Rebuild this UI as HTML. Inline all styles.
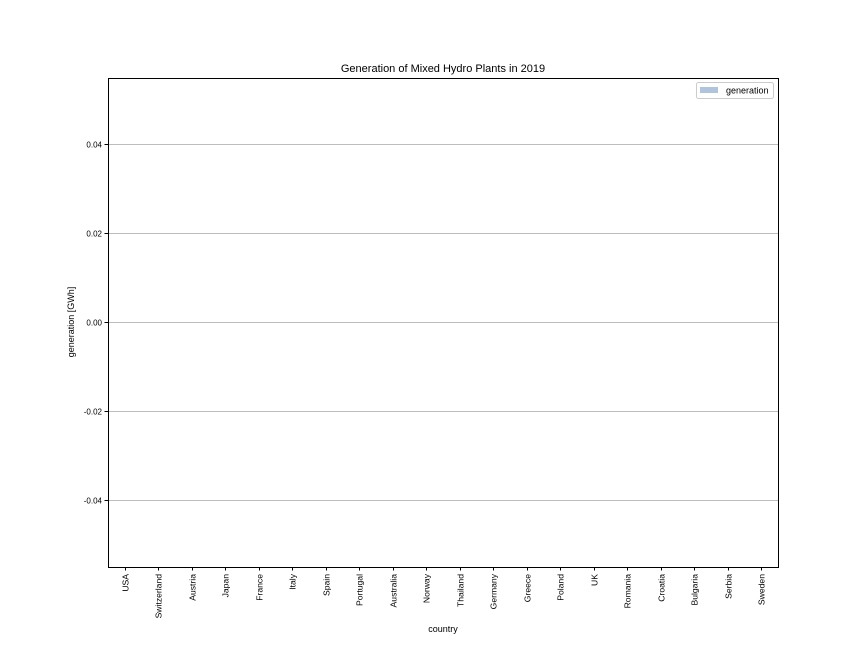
<!DOCTYPE html>
<html><head><meta charset="utf-8"><style>
body{margin:0;background:#fff}
svg{display:block;font-family:"Liberation Sans","Noto Sans CJK SC",sans-serif}
</style></head><body>
<svg id="chart" width="864" height="648" viewBox="0 0 864 648">
<rect width="864" height="648" fill="#fff"/>
<text x="443" y="72" text-anchor="middle" font-size="11" fill="#000">Generation of Mixed Hydro Plants in 2019</text>
<g id="grid"></g>
<g id="bars"></g>
<g id="yticks"></g>
<g id="xticks"></g>
<rect x="108.5" y="78.5" width="670" height="489" fill="none" stroke="#000" stroke-width="1"/>
<text x="74" y="322" transform="rotate(-90 74 322)" text-anchor="middle" font-size="9">generation [GWh]</text>
<text x="443" y="632" text-anchor="middle" font-size="9">country</text>
<g>
<rect x="696.5" y="82.5" width="77" height="16" rx="2" fill="#fff" stroke="#ccc"/>
<rect x="700" y="87" width="18" height="6" fill="#b0c4de"/>
<text x="726" y="93.5" font-size="9">generation</text>
</g>
</svg>
<script>
const categories=["USA","Switzerland","Austria","Japan","France","Italy","Spain","Portugal","Australia","Norway","Thailand","Germany","Greece","Poland","UK","Romania","Croatia","Bulgaria","Serbia","Sweden"];
const generation=[0,0,0,0,0,0,0,0,0,0,0,0,0,0,0,0,0,0,0,0];
const yTicks=[-0.04,-0.02,0.00,0.02,0.04];
const yTickLabels=["-0.04","-0.02","0.00","0.02","0.04"];
const NS="http://www.w3.org/2000/svg";
const L=108,R=778,T=78,B=567,ymin=-0.055,ymax=0.055;
function ys(v){return B-(v-ymin)/(ymax-ymin)*(B-T);}
const bw=(R-L)/categories.length;
function xs(i){return L+bw*(i+0.5);}
function mk(tag,attrs,parent){const e=document.createElementNS(NS,tag);for(const k in attrs)e.setAttribute(k,attrs[k]);document.getElementById(parent).appendChild(e);return e;}
yTicks.forEach((v,i)=>{
  const y=Math.floor(ys(v))+0.5;
  const g=mk('line',{x1:L,x2:R,y1:y,y2:y,stroke:'#bdbdbd','stroke-width':1},'grid');
  
  
  const t=mk('line',{x1:L-3.5,x2:L,y1:y,y2:y,stroke:'#000'},'yticks');
  
  
  const tx=mk('text',{x:L-6,y:y+3,'text-anchor':'end','font-size':8},'yticks');
  tx.textContent=yTickLabels[i];
  
  
});
categories.forEach((c,i)=>{
  const x=Math.round(xs(i))+0.5;
  const v=generation[i];
  const y0=ys(0),y1=ys(v);
  const b=mk('rect',{x:xs(i)-bw*0.25,y:Math.min(y0,y1),width:bw*0.5,height:Math.abs(y1-y0),fill:'#b0c4de'},'bars');
  
  
  const t=mk('line',{x1:x,x2:x,y1:B,y2:B+3.5,stroke:'#000'},'xticks');
  
  
  const tx=mk('text',{x:x+3,y:B+7,'text-anchor':'end','font-size':8.6,transform:`rotate(-90 ${x+3} ${B+7})`},'xticks');
  tx.textContent=c;
  
  
});
</script>
</body></html>
